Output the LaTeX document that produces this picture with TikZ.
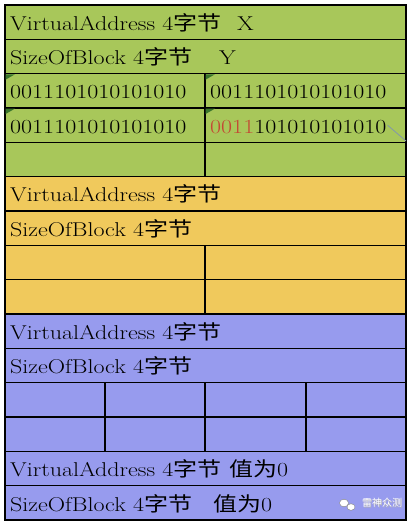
\documentclass[tikz,border=0pt]{standalone}
\usepackage{fontspec}
\usepackage{graphicx}
\newfontfamily\cjk{Noto Sans CJK SC}
\definecolor{rowgreen}{RGB}{168,199,90}
\definecolor{rowyellow}{RGB}{240,201,92}
\definecolor{rowblue}{RGB}{151,155,238}
\definecolor{bitred}{RGB}{196,72,52}
\definecolor{markgreen}{RGB}{58,118,44}
\definecolor{noteline}{RGB}{130,150,172}
\tikzset{
  celltext/.style={anchor=base west, inner sep=0pt, font=\fontsize{20}{24}\selectfont},
  gridline/.style={line width=1.3pt},
}
\newcommand{\wide}[1]{\scalebox{1.2}[1]{#1}}
\newcommand{\zj}{4{\cjk 字节}}
\begin{document}
\begin{tikzpicture}[x=1pt,y=-1pt]
    \useasboundingbox (0,0) rectangle (414,526);
    \def\h{34.333}

\fill[rowgreen]  (5,5) rectangle (406,176.67);
\fill[rowyellow] (5,176.67) rectangle (406,314);
\fill[rowblue]   (5,314) rectangle (406,520);

\foreach \k in {1,...,14}
{
    \draw[gridline] (5,{5+\k*\h})--(406,{5+\k*\h});
}
\draw[gridline] (205,73.67)--(205,176.67);
\draw[gridline] (205,245.33)--(205,314);
\foreach \x in {105,205,306}
{
    \draw[gridline] (\x,382.67)--(\x,451.33);
}
\draw[line width=2pt] (5,5) rectangle (406,520);

% green corner marks
\foreach \x/\y in {5/73.67,205/73.67,5/108,205/108}
{
    \fill[markgreen] (\x+0.6,\y+0.6)--(\x+10,\y+0.6)--(\x+0.6,\y+6)--cycle;
}

\foreach \r/\n in {0/va1,5/va2,9/va3,13/va4}
{
    \node[celltext] (\n) at (10,{5+(\r+1)*\h-9}) {\wide{VirtualAddress \zj}};
}
\foreach \r/\n in {1/sz1,6/sz2,10/sz3,14/sz4}
{
    \node[celltext] (\n) at (10,{5+(\r+1)*\h-9}) {\wide{SizeOfBlock \zj}};
}
\node[celltext] (valx) at (237,30.3) {\wide{X}};
\node[celltext] (valy) at (219,64.7) {\wide{Y}};
\node[celltext] (zeroa) at (229,476.7) {\wide{{\cjk 值为}0}};
\node[celltext] (zerob) at (213,511) {\wide{{\cjk 值为}0}};

\node[celltext] (bitsa) at (10,99) {\wide{0011101010101010}};
\node[celltext] (bitsb) at (210,99) {\wide{0011101010101010}};
\node[celltext] (bitsc) at (10,133.3) {\wide{0011101010101010}};
\node[celltext] (bitsd) at (210,133.3) {\wide{\textcolor{bitred}{0011}101010101010}};
\draw[noteline, line width=0.8pt] (bitsd.base east)++(1,-8)--(406,141);

% watermark
\fill[white, draw=gray] (344,503) ellipse (4.5pt and 3.8pt);
\fill[white, draw=gray] (351,507) ellipse (4pt and 3.3pt);
\node[anchor=west, inner sep=0pt, text=gray!60, font=\cjk\fontsize{10}{12}\selectfont] (wmshadow) at (362.6,503.6) {雷神众测};
\node[anchor=west, inner sep=0pt, text=white, font=\cjk\fontsize{10}{12}\selectfont] (wm) at (362,503) {雷神众测};

\end{tikzpicture}
\end{document}
